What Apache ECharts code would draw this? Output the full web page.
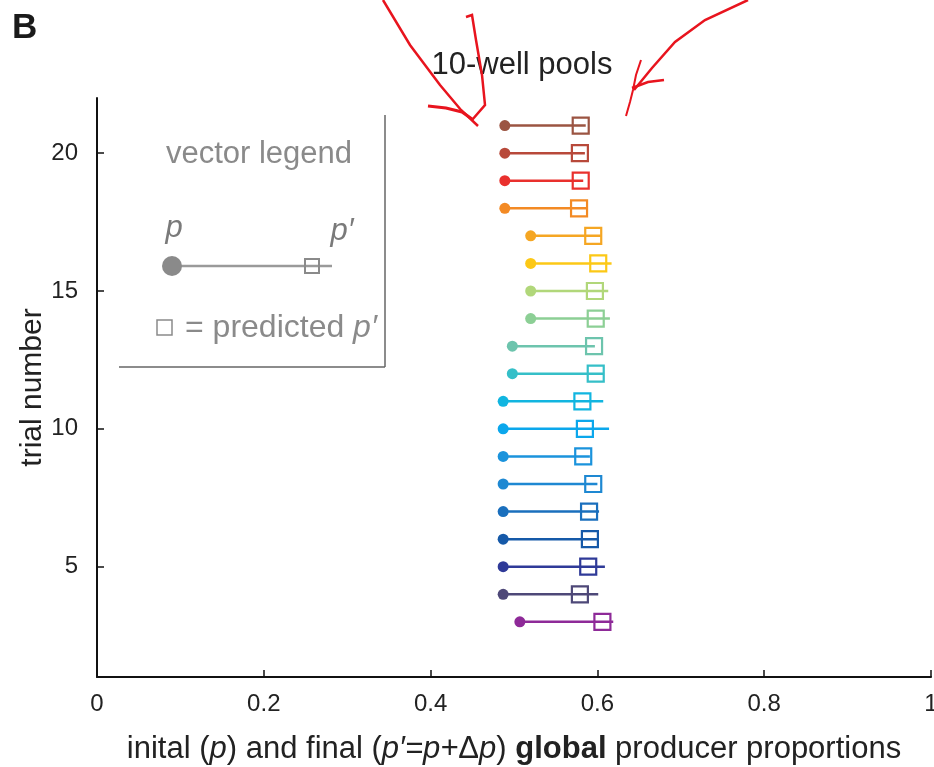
<!DOCTYPE html>
<html>
<head>
<meta charset="utf-8">
<script src="https://cdn.jsdelivr.net/npm/echarts@6/dist/echarts.min.js"></script>
<style>
  html, body { margin: 0; padding: 0; background: #fff; }
  #main { width: 934px; height: 767px; }
</style>
</head>
<body>
<div id="main"></div>
<script>
// trial number, top to bottom
var trials = [21, 20, 19, 18, 17, 16, 15, 14, 13, 12, 11, 10, 9, 8, 7, 6, 5, 4, 3];
// initial p (dot)
var pStart = [0.489, 0.489, 0.489, 0.489, 0.520, 0.520, 0.520, 0.520, 0.498, 0.498,
              0.487, 0.487, 0.487, 0.487, 0.487, 0.487, 0.487, 0.487, 0.507];
// final p' (end of line)
var pFinal = [0.586, 0.585, 0.583, 0.588, 0.604, 0.617, 0.613, 0.615, 0.597, 0.607,
              0.607, 0.614, 0.591, 0.600, 0.602, 0.601, 0.609, 0.601, 0.619];
// predicted p' (square)
var pPred = [0.580, 0.579, 0.580, 0.578, 0.595, 0.601, 0.597, 0.598, 0.596, 0.598,
             0.582, 0.585, 0.583, 0.595, 0.590, 0.591, 0.589, 0.579, 0.606];
var trialColors = ['#9b5442', '#b8493a', '#e9302d', '#f38a24', '#f5a623', '#fcc816',
                   '#b1d77a', '#8ccf95', '#6dc4ad', '#35bfc8', '#11b5e0', '#0ba7ec',
                   '#1b93dc', '#1e88d2', '#1a6fbd', '#1559a8', '#2f3a98', '#4e4878', '#8e2a98'];
var yTicks = [5, 10, 15, 20];

var myChart = echarts.init(document.getElementById('main'));
var FONT = '"Liberation Sans", Arial, sans-serif';

var series = [];
// vector lines
for (var i = 0; i < trials.length; i++) {
    series.push({
        type: 'line',
        data: [[pStart[i], trials[i]], [pFinal[i], trials[i]]],
        showSymbol: false,
        symbol: 'none',
        silent: true,
        lineStyle: { color: trialColors[i], width: 2.5 },
        z: 2
    });
}
// initial dots + predicted squares
var dotData = [];
var squareData = [];
for (var j = 0; j < trials.length; j++) {
    dotData.push({ value: [pStart[j], trials[j]], itemStyle: { color: trialColors[j], opacity: 1 } });
    squareData.push({
        value: [pPred[j], trials[j]],
        itemStyle: { color: 'rgba(0,0,0,0)', borderColor: trialColors[j], borderWidth: 2.2, opacity: 1 }
    });
}
series.push({ type: 'scatter', data: dotData, symbol: 'circle', symbolSize: 11, z: 3, silent: true });
series.push({ type: 'scatter', data: squareData, symbol: 'rect', symbolSize: 16, z: 4, silent: true });

var gray = '#8a8a8a';
var red = '#e8141e';

myChart.setOption({
    animation: false,
    backgroundColor: '#fff',
    textStyle: { fontFamily: FONT },
    grid: { left: 97, right: 3, top: 98, bottom: 90, outerBoundsMode: 'none', containLabel: false },
    xAxis: {
        type: 'value',
        min: 0,
        max: 1,
        interval: 0.2,
        splitLine: { show: false },
        axisLine: { show: true, lineStyle: { color: '#111', width: 2 } },
        axisTick: { show: true, inside: true, length: 7, lineStyle: { color: '#111', width: 1.5 } },
        axisLabel: { fontSize: 24, color: '#222', margin: 15, fontFamily: FONT },
        name: 'inital ({i|p}) and final ({i|p′=p+}Δ{i|p}) {b|global} producer proportions',
        nameLocation: 'middle',
        nameGap: 57,
        nameMoveOverlap: false,
        nameTextStyle: {
            fontSize: 31, color: '#222', fontFamily: FONT,
            rich: {
                i: { fontSize: 31, fontStyle: 'italic', color: '#222', fontFamily: FONT },
                b: { fontSize: 31, fontWeight: 'bold', color: '#222', fontFamily: FONT }
            }
        }
    },
    yAxis: {
        type: 'value',
        min: 1,
        max: 22,
        splitLine: { show: false },
        axisLine: { show: true, lineStyle: { color: '#111', width: 2 } },
        axisTick: { show: true, inside: true, length: 7, customValues: yTicks, lineStyle: { color: '#111', width: 1.5 } },
        axisLabel: { fontSize: 24, color: '#222', margin: 19, customValues: yTicks, fontFamily: FONT },
        name: 'trial number',
        nameLocation: 'middle',
        nameGap: 49,
        nameMoveOverlap: false,
        nameTextStyle: { fontSize: 30, color: '#222', fontFamily: FONT }
    },
    graphic: [
        // panel letter
        { type: 'text', left: 12, top: 11, style: { text: 'B', font: 'bold 35px ' + FONT, fill: '#1a1a1a' } },
        // title
        { type: 'text', x: 522, y: 65, style: { text: '10-well pools', font: '31px ' + FONT, fill: '#222', align: 'center', verticalAlign: 'middle' } },
        // legend box borders
        { type: 'line', shape: { x1: 385, y1: 115, x2: 385, y2: 367 }, style: { stroke: '#666', lineWidth: 1.5 } },
        { type: 'line', shape: { x1: 119, y1: 367, x2: 385, y2: 367 }, style: { stroke: '#666', lineWidth: 1.5 } },
        { type: 'text', x: 259, y: 154, style: { text: 'vector legend', font: '31px ' + FONT, fill: gray, align: 'center', verticalAlign: 'middle' } },
        { type: 'text', x: 174, y: 228, style: { text: 'p', font: 'italic 31px ' + FONT, fill: '#7a7a7a', align: 'center', verticalAlign: 'middle' } },
        { type: 'text', x: 342, y: 231, style: { text: 'p′', font: 'italic 31px ' + FONT, fill: '#7a7a7a', align: 'center', verticalAlign: 'middle' } },
        { type: 'line', shape: { x1: 172, y1: 266, x2: 332, y2: 266 }, style: { stroke: '#9a9a9a', lineWidth: 2.5 } },
        { type: 'circle', shape: { cx: 172, cy: 266, r: 10 }, style: { fill: '#8a8a8a' } },
        { type: 'rect', shape: { x: 305, y: 259, width: 14, height: 14 }, style: { fill: 'none', stroke: '#8a8a8a', lineWidth: 2 } },
        { type: 'rect', shape: { x: 157, y: 320, width: 15, height: 15 }, style: { fill: 'none', stroke: '#8a8a8a', lineWidth: 1.5 } },
        { type: 'text', x: 185, y: 328, style: {
            text: '= predicted {i|p′}', font: '32px ' + FONT, fill: gray, verticalAlign: 'middle',
            rich: { i: { fontStyle: 'italic', fontSize: 32, fill: gray, fontFamily: FONT } }
        } },
        // red hand-drawn annotations
        { type: 'polyline', shape: { points: [[383, 0], [410, 45], [440, 85], [461, 110], [478, 126]] }, style: { stroke: red, lineWidth: 2.5, fill: 'none' } },
        { type: 'polyline', shape: { points: [[428, 106], [446, 108], [462, 112], [472, 119]] }, style: { stroke: red, lineWidth: 3, fill: 'none' } },
        { type: 'polyline', shape: { points: [[466, 17], [472, 15], [476, 40], [482, 75], [485, 105], [472, 120]] }, style: { stroke: red, lineWidth: 2.5, fill: 'none' } },
        { type: 'polyline', shape: { points: [[748, 0], [705, 20], [675, 42], [652, 68], [634, 90]] }, style: { stroke: red, lineWidth: 2.5, fill: 'none' } },
        { type: 'polyline', shape: { points: [[632, 88], [648, 82], [664, 80]] }, style: { stroke: red, lineWidth: 2.5, fill: 'none' } },
        { type: 'polyline', shape: { points: [[641, 60], [636, 75], [633, 90], [630, 102], [626, 116]] }, style: { stroke: red, lineWidth: 2, fill: 'none' } }
    ],
    series: series
});
</script>
</body>
</html>
